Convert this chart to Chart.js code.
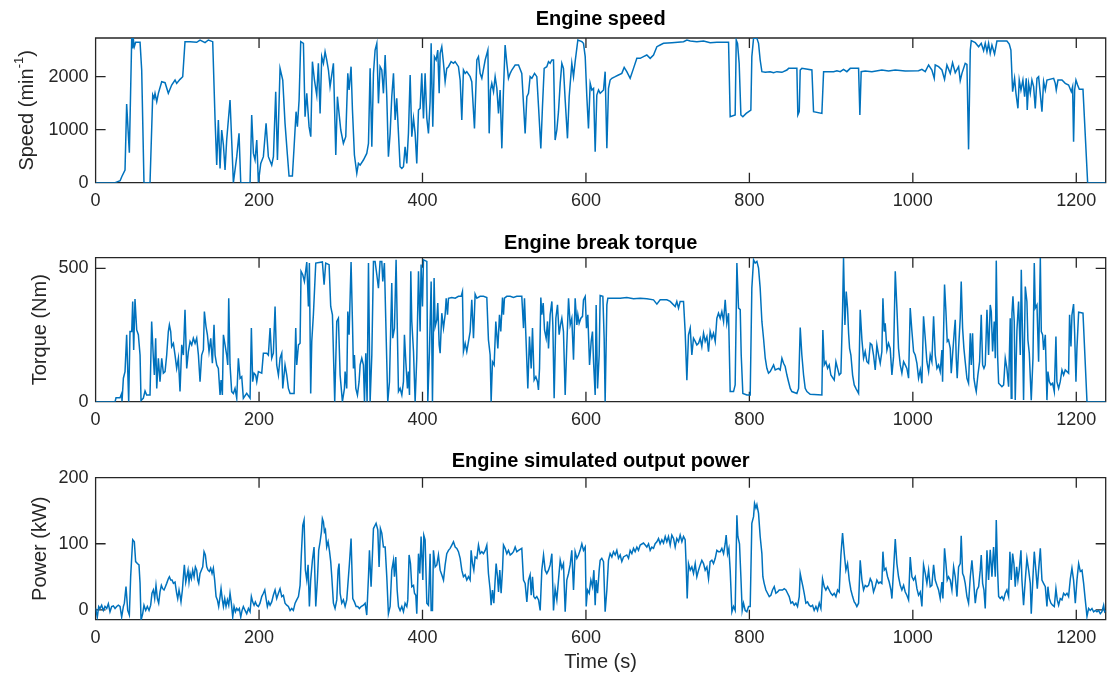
<!DOCTYPE html>
<html>
<head>
<meta charset="utf-8">
<title>Engine speed / torque / power</title>
<script src="https://cdn.jsdelivr.net/npm/chart.js@4.4.1/dist/chart.umd.min.js"></script>
<style>
  body { margin: 0; background: #fff; }
  #wrap { position: relative; width: 1109px; height: 684px; }
  #wrap canvas { position: absolute; left: 0; }
</style>
</head>
<body>
<div id="wrap">
  <canvas id="speedChart" width="1109" height="220" style="top:0px"></canvas>
  <canvas id="torqueChart" width="1109" height="220" style="top:220px"></canvas>
  <canvas id="powerChart" width="1109" height="244" style="top:440px"></canvas>
</div>
<script>
// readings: [time s, value]
const xTicks = [0, 200, 400, 600, 800, 1000, 1200];

const speedRpm = [
  [0,0],[24,0],[30,38],[32,113],[36,239],[38,1484],[41.3,566],[44.2,2730],[45.4,2535],[46.2,2705],[47.4,2566],[49,2648],[54.4,2648],[56.4,2126],[59.2,0],[66.6,0],
  [69.9,1654],[71.5,1591],[72.7,1686],[74.8,1528],[76.8,1686],[80.9,1906],[85,1887],[89,1686],[93.1,1843],[97.2,1937],[99.2,1874],[103.3,1950],[106.6,2000],[109.4,2661],
  [115.5,2661],[123.7,2648],[127.8,2692],[133.9,2642],[138,2692],[143.3,2661],[146.2,1183],[148.2,333],[150.2,1183],[152.3,270],[154.3,994],[156.4,711],[158.4,239],
  [160.4,805],[164.5,1560],[166.5,805],[168.6,0],[172.7,491],[175.5,931],[177.6,0],[189,0],[191,1277],[193.1,553],[195.1,428],[197.2,805],[199.2,0],[202.1,365],
  [205.3,491],[208.6,1120],[211.4,491],[215.5,333],[217.6,491],[220.4,1717],[222.5,428],[225.7,2157],[229,1937],[231.8,1120],[234.7,522],[236.7,126],[240.8,126],
  [242.9,679],[245.3,1340],[246.9,1057],[249,1560],[251,2661],[254.3,2629],[256.3,1245],[258.4,1686],[261.2,1057],[263.3,868],[265.3,2283],[267.8,1937],[270.6,1654],
  [272.6,2252],[274.7,1308],[276.7,2378],[278.8,2252],[280.8,2472],[282.8,2315],[284.9,2126],[286.9,1812],[291,2252],[293.9,522],[295.9,1623],[297.9,1308],[300,994],
  [303.2,742],[306.1,868],[308.6,2063],[310.2,1749],[312.6,2189],[314.3,1371],[316.7,522],[319.6,176],[321.6,365],[323.7,333],[327.7,428],[331.8,553],[333.9,742],
  [335.9,2157],[338,679],[340,2063],[342,2503],[344.1,2629],[346.1,1497],[348.1,2189],[350.2,2126],[352.2,1686],[354.3,2409],[356.3,1623],[358.3,491],[360.4,931],
  [362.4,1623],[364.5,2063],[366.5,1183],[368.5,1591],[370.6,931],[372.6,302],[374.7,270],[376.7,302],[378.7,679],[380.8,365],[382.8,931],[384.9,2032],[386.9,868],
  [389,1214],[391,931],[393,365],[395.1,1371],[397.1,1403],[399.1,2063],[401.2,1214],[403.2,2063],[405.3,1214],[407.3,931],[409.3,1528],[410.6,2629],[412.6,1057],
  [414.6,2378],[416.7,2315],[418.7,2503],[420.4,1686],[421.6,2441],[423.6,2566],[425.7,2252],[427.7,1906],[429.7,2157],[431.8,2189],[435,2283],[437.9,2252],[439.9,2283],
  [444,2189],[446.1,1937],[448.1,1183],[450.1,2126],[452.2,2063],[454.2,2095],[458.3,2000],[460.3,1906],[463.6,1025],[466.5,2315],[468.5,2378],[470.5,2063],[472.6,1969],
  [476.7,2315],[480,2503],[481.6,931],[483.2,1749],[484.8,1874],[486.9,1717],[488.9,2000],[491,1780],[493,1308],[495,1749],[497.1,648],[499.1,1749],[501.1,2598],
  [503.2,2252],[505.2,1969],[507.3,2063],[509.3,2126],[513.4,2220],[517.5,2220],[521.5,2063],[525.6,931],[527.7,1623],[529.7,1686],[531.7,2000],[533.8,1969],[537.1,2063],
  [539.9,2000],[542,1434],[544.8,648],[546.8,1434],[548.9,2157],[552.1,2189],[554.2,2283],[556.2,2252],[558.3,2315],[560.3,2315],[562.3,805],[564.4,994],[566.4,1340],
  [568.5,1874],[570.5,2252],[572.5,2157],[574.6,1560],[577.4,837],[579.5,1623],[582.7,2252],[584.8,2000],[586.8,2283],[590.1,2692],[595,2661],[597,2629],[599.1,2378],
  [601.1,1623],[603.1,1025],[605.2,1874],[607.2,1749],[609.3,1780],[611.3,585],[613.3,1654],[615.4,1749],[617.4,1686],[619.4,1717],[621.5,1749],[623.5,2095],[625.6,648],
  [627.6,1780],[629.6,1937],[631.7,1969],[635.8,2000],[639.8,2032],[643.9,2063],[646.8,2176],[650,2095],[654.1,1969],[658.2,2157],[662.3,2346],[666.4,2346],[670.4,2378],
  [674.5,2409],[678.6,2346],[682.7,2409],[686.8,2566],[690.8,2598],[694.9,2629],[705.1,2642],[719.4,2661],[723.5,2692],[727.6,2673],[735.7,2661],[743.9,2673],[752,2642],
  [760.2,2648],[774.5,2648],[776.5,1245],[782.6,1277],[783.9,2692],[785.5,2629],[787.5,2252],[789.6,1277],[792,1245],[796.1,1308],[801.8,1371],[803,2378],[805.1,2723],
  [809.2,2723],[811.2,2629],[813.2,2315],[815.3,2095],[819.4,2082],[825.5,2095],[829.6,2076],[833.6,2095],[839.8,2082],[845.9,2126],[848,2157],[858.1,2157],[859.3,1277],
  [861,1340],[862.2,2126],[864.2,2157],[876.5,2126],[878.5,1340],[888.7,1308],[890.8,2095],[903,2095],[907.1,2113],[911.2,2095],[915.2,2139],[919.3,2095],[923.4,2157],
  [933.6,2157],[935.2,1277],[936.8,2095],[941.7,2107],[949.9,2095],[962.1,2126],[970.3,2107],[978.5,2126],[990.7,2107],[1007,2113],[1011.1,2139],[1015.2,2095],
  [1019.3,2220],[1023.3,2126],[1026.2,1969],[1027.4,2220],[1031.5,2189],[1035.6,2126],[1038.8,1950],[1041.7,2220],[1045.8,2063],[1048.6,2264],[1051.9,2076],[1056,2189],
  [1058,1925],[1060.1,2063],[1064.1,2252],[1066.2,2233],[1068.2,629],[1070.3,2503],[1071.5,2680],[1076.4,2642],[1080.5,2566],[1083.7,2629],[1086.6,2491],[1088.6,2629],
  [1090.7,2472],[1092.7,2629],[1094.7,2441],[1096.8,2598],[1100,2428],[1102.9,2673],[1115.1,2673],[1118,2617],[1120,2503],[1122.1,1717],[1124.5,1969],[1126.2,1686],
  [1128.6,1403],[1130.2,1937],[1132.3,1749],[1134.7,1937],[1136.8,1623],[1138.8,1969],[1140,1371],[1141.7,1874],[1143.7,1686],[1145.7,1937],[1147.8,1812],[1149.8,1403],
  [1151.9,1969],[1153.9,2000],[1155.9,1686],[1158,1340],[1160,1906],[1162.1,1749],[1164.1,1937],[1172.3,1969],[1174.3,1874],[1175.5,1749],[1177.6,1937],[1182.5,1937],
  [1186.5,1874],[1190.6,1843],[1193.9,1717],[1195.5,1812],[1196.7,774],[1198,1749],[1199.6,1937],[1201.6,1843],[1203.7,1761],[1208.2,1761],[1213.9,0],[1236,0]
];

const torqueNm = [
  [0,0],[23.8,0],[25,15],[29.9,15],[31.9,31],[32.3,0],[34,88],[36,113],[38,251],[40.5,0],[42.1,263],[44.2,263],[45.4,376],[46.6,194],[48.2,385],[50.3,269],[52.3,251],
  [54.4,175],[55.6,4],[58.4,13],[60.5,40],[62.5,25],[66.6,25],[68.6,301],[70.7,163],[71.9,100],[73.5,238],[74.8,50],[76.8,163],[78.8,75],[80.9,163],[82.9,107],[85,113],
  [87,175],[89,263],[90.3,288],[91.9,263],[93.1,207],[95.2,219],[97.2,175],[99.2,125],[101.3,163],[103.3,38],[105.4,213],[107.4,175],[109.4,345],[111.5,125],[113.5,188],
  [115.6,226],[117.6,213],[119.6,238],[121.7,219],[123.7,238],[125.8,175],[127.8,75],[129.8,175],[131.9,194],[133.1,338],[135.1,282],[136.8,251],[138.8,188],[140.9,238],
  [142.9,144],[144.9,288],[146.2,175],[148.2,138],[150.2,125],[152.3,25],[153.5,81],[155.1,25],[156.4,251],[158.4,213],[160.4,175],[161.7,138],[162.9,388],[164.5,138],
  [166.5,38],[168.6,31],[170.6,50],[172.7,13],[174.7,163],[176.8,88],[178.8,94],[180.8,13],[184.9,31],[189,13],[190.6,276],[192.2,75],[193.9,107],[195.9,100],[197.2,75],
  [199.2,113],[203.3,107],[205.3,182],[209.4,182],[211.4,175],[213.5,276],[215.5,163],[217.5,182],[219.6,357],[221.6,138],[223.7,100],[225.7,163],[227.8,182],[229,50],
  [231.8,138],[233.9,100],[235.9,50],[238,31],[242.9,31],[244.9,276],[246.1,138],[248.2,213],[250.2,219],[251.4,489],[253.5,476],[255.5,451],[258.4,524],[260.4,357],
  [261.6,520],[263.2,31],[264.5,226],[266.5,326],[269.4,520],[277.5,524],[279.6,439],[281.6,520],[285.7,514],[287.7,357],[289.8,326],[292.6,0],[295.1,301],[297.1,313],
  [299.2,100],[302,0],[304.5,50],[305.3,113],[307.3,50],[308.6,338],[310.2,251],[312.6,524],[314.3,301],[315.5,125],[316.7,175],[318.4,50],[320.4,25],[322.4,75],
  [323.7,138],[325.7,163],[327.7,138],[329,0],[330.6,182],[332.2,0],[333.9,520],[335.9,0],[338,175],[340,526],[342,526],[344.1,476],[346.1,426],[348.1,526],[350.2,526],
  [351.4,451],[353.4,520],[355.1,301],[357.5,0],[359.6,75],[362.4,445],[363.6,238],[365.7,276],[367.7,532],[369.4,238],[370.6,38],[372.6,50],[374.7,25],[376.7,75],
  [377.9,251],[379.6,150],[381.6,50],[382.8,113],[384.1,25],[385.7,489],[386.9,301],[389,188],[391,0],[393,163],[395.1,489],[397.1,263],[398.3,514],[400,357],[401.2,532],
  [405.3,526],[406.5,0],[408.5,188],[410.6,451],[412.2,0],[414.2,464],[415.5,282],[417.5,307],[418.7,370],[420.4,213],[421.6,182],[423.6,332],[425.7,276],[427.7,326],
  [429,388],[430.6,326],[431.8,388],[435.9,391],[440,388],[444,395],[447.3,395],[448.9,413],[450.1,188],[452.2,219],[454.2,188],[456.3,226],[458.3,263],[460.3,382],
  [462.4,238],[464.4,403],[466.5,388],[470.5,395],[474.6,395],[478.7,391],[480.7,232],[482.8,175],[484,0],[485.6,150],[487.7,138],[489.7,301],[492.2,200],[494.2,326],
  [495.8,263],[497.9,391],[499.1,326],[500.3,388],[503.2,395],[507.3,395],[511.3,391],[515.4,395],[521.5,395],[523.6,276],[524.8,388],[526.4,257],[528.9,50],[530.9,244],
  [533,125],[534.6,276],[536.6,81],[538.7,94],[540.7,75],[541.9,44],[543.2,125],[544.8,391],[546,326],[547.7,370],[549.3,269],[551.3,238],[553,301],[554.2,200],[556.2,326],
  [558.3,376],[559.5,288],[561.1,13],[563.2,313],[565.2,363],[567.2,251],[568.9,288],[570.5,313],[572.5,263],[574.6,25],[576.6,213],[578.7,388],[580.7,288],[582.7,313],
  [584.8,157],[586.8,388],[588.9,288],[590.1,326],[591.7,294],[593.8,313],[595.8,320],[597,382],[599.1,395],[600.7,276],[602.3,326],[604.4,138],[606.4,226],[608,263],
  [609.3,150],[611.3,25],[612.5,363],[614.2,50],[616.2,175],[617.4,398],[620.7,395],[622.3,238],[623.5,0],[625.6,363],[626.8,388],[633.7,388],[641.9,388],[650,391],
  [658.2,386],[666.4,388],[674.5,386],[682.7,382],[686.8,366],[690.8,382],[699,382],[703.1,376],[709.2,357],[711.2,376],[713.3,351],[715.3,376],[719.4,376],[721.4,263],
  [723.5,81],[725.5,251],[727.6,276],[729.6,175],[731.6,238],[733.7,226],[735.7,213],[737.8,219],[739.8,238],[741.8,207],[743.9,257],[745.9,226],[748,244],[750,188],
  [752,263],[754.1,238],[756.1,257],[758.2,226],[760.2,313],[762.2,332],[764.3,313],[766.3,338],[768.4,301],[770.4,382],[772.4,294],[774.5,332],[776.5,38],[780.6,38],
  [782.6,63],[784.7,520],[786.7,351],[788.8,345],[790,175],[792,31],[797,25],[801,25],[803,426],[805.1,532],[807.1,520],[809.2,526],[811.2,501],[813.2,426],[815.3,301],
  [817.3,238],[819.4,163],[821.4,125],[823.4,107],[825.5,113],[827.5,125],[829.6,138],[831.6,119],[835.7,125],[837.7,119],[839.8,163],[841.8,144],[843.8,132],[845.9,100],
  [847.9,75],[850,50],[852,38],[858.1,31],[860.2,50],[862.2,278],[864.2,175],[866.3,100],[868.3,50],[870.4,38],[874.4,28],[888.7,25],[889.9,269],[891.6,138],[893.6,150],
  [895.7,125],[897.7,138],[899.7,100],[903.8,81],[905.9,150],[907.9,125],[909.9,100],[912,107],[914,338],[915.2,539],[916.9,288],[918.5,413],[920.1,351],[921.4,257],
  [922.6,200],[924.2,175],[926.3,100],[928.3,63],[930.3,50],[933.6,31],[935.6,345],[937.7,232],[939.7,163],[941.7,188],[943.8,150],[945.8,144],[947.9,219],[949.9,213],
  [951.9,175],[954,119],[956,213],[958.1,175],[960.1,144],[962.1,188],[963.4,388],[965,263],[966.2,294],[968.3,194],[970.3,219],[972.3,200],[974.4,100],[976.4,169],
  [978.5,489],[980.5,351],[982.5,200],[984.6,138],[986.6,107],[988.7,150],[990.7,138],[992.7,125],[994.8,88],[996.8,351],[998.9,263],[1000.9,188],[1002.9,175],[1005,144],
  [1007,88],[1009.1,119],[1011.1,69],[1013.1,320],[1015.2,238],[1017.2,150],[1019.3,113],[1021.3,175],[1023.3,150],[1025.4,320],[1027.4,175],[1029.5,125],[1031.5,138],
  [1033.5,113],[1035.6,194],[1036.4,75],[1038.8,439],[1040.5,338],[1042.1,226],[1043.7,232],[1045.8,200],[1047,107],[1048.6,175],[1050.7,263],[1051.9,307],[1053.1,163],
  [1054.3,88],[1056,200],[1058,313],[1059.2,451],[1060.9,276],[1062.5,200],[1064.1,150],[1066.2,88],[1068.2,69],[1070.3,257],[1071.5,138],[1073.1,257],[1074.7,88],
  [1076.4,56],[1077.6,38],[1079.6,100],[1081.7,150],[1083.7,326],[1085.4,138],[1087,125],[1088.6,138],[1090.7,345],[1092.7,175],[1094.7,363],[1096,338],[1097.6,188],
  [1099.6,301],[1100.9,163],[1102.1,529],[1103.7,175],[1105,69],[1109,56],[1111.1,63],[1113.1,163],[1115.1,125],[1117.2,56],[1119.2,313],[1120.4,13],[1121.3,332],
  [1122.5,395],[1124.1,301],[1125.3,6],[1127.4,269],[1129.4,376],[1131.5,175],[1132.7,495],[1134.3,238],[1135.5,6],[1137.6,432],[1139.6,376],[1140.8,232],[1142.5,182],
  [1144.9,6],[1147,163],[1148.6,520],[1149.8,351],[1151.9,363],[1153.9,150],[1156,539],[1157.2,263],[1158.8,251],[1160,194],[1162.1,251],[1164.1,6],[1165.3,113],[1167,75],
  [1169,63],[1171,69],[1173.1,38],[1175.1,244],[1176.3,75],[1178.4,50],[1180.4,75],[1182.5,119],[1184.5,100],[1186.5,119],[1190.6,107],[1191.8,326],[1193.5,207],
  [1194.7,326],[1196.7,366],[1198,257],[1199.6,75],[1200.8,200],[1202.9,336],[1208.2,332],[1213.1,0],[1236,0]
];

const powerKw = [
  [0,2],[2.1,-11],[3.8,5],[5.4,2],[7.4,7],[9.5,-1],[11.5,5],[13.6,2],[15.6,9],[17.6,-3],[19.7,5],[21.7,6],[23.8,2],[25.8,5],[27.8,7],[29.9,5],[31.9,-11],[34,5],[35.2,10],
  [37.2,35],[39.3,-1],[41.3,-8],[42.9,50],[44.2,80],[45.4,106],[47.4,103],[49,73],[51.1,70],[53.1,68],[54.4,40],[55.6,-16],[57.6,-6],[59.2,7],[61.3,-1],[63.3,5],[65.4,-1],
  [67.4,7],[69,25],[70.7,30],[72.3,17],[73.9,37],[75.6,17],[77.2,10],[78.8,27],[80.5,37],[82.1,32],[83.7,30],[85.4,35],[87,40],[89,47],[90.3,50],[91.9,45],[93.5,45],
  [95.2,40],[97.2,42],[99.2,25],[100.5,17],[102.1,30],[103.3,22],[104.5,12],[106.2,30],[107.4,50],[108.6,68],[110.3,42],[111.5,50],[113.1,60],[114.3,42],[115.6,55],
  [117.2,47],[118.8,60],[120.5,50],[122.1,65],[123.7,60],[125,45],[126.2,40],[127.8,55],[129.4,60],[131.1,65],[132.7,88],[134.3,83],[136,65],[137.6,60],[139.2,58],
  [140.8,63],[142.5,55],[144.1,63],[145.7,45],[147.4,20],[149,15],[150.6,5],[152.3,20],[153.5,32],[155.1,15],[156.4,5],[158,17],[159.6,5],[161.3,15],[162.9,7],[164.5,25],
  [166.1,10],[167.8,-11],[169.4,5],[171.1,-3],[172.7,2],[174.3,-1],[175.9,2],[177.6,-11],[179.2,-1],[180.8,5],[182.9,-1],[184.9,-6],[187,2],[189,-3],[190.6,20],[192.2,12],
  [193.9,7],[195.5,12],[197.2,7],[199.2,5],[201.2,10],[203.3,20],[205.3,25],[207,30],[208.6,17],[210.2,5],[211.8,12],[213.5,7],[215.5,12],[217.5,22],[219.6,30],[221.6,17],
  [223.7,25],[225.7,32],[227.8,20],[229.8,22],[231.8,10],[233.9,7],[235.9,5],[238,-1],[240,2],[242,-1],[244.1,10],[246.1,15],[248.2,20],[250.2,37],[251.8,85],[253.5,128],
  [255.1,136],[256.7,60],[258.4,45],[260,68],[261.6,5],[263.2,45],[265.3,75],[267.3,95],[269.4,5],[271.4,45],[273,90],[274.7,103],[276.3,118],[277.5,138],[278.8,133],
  [280,118],[281.2,121],[282.8,95],[284.5,103],[286.1,90],[287.7,73],[289,50],[291,10],[293,2],[295.1,15],[296.7,60],[297.9,70],[299.2,25],[301.2,10],[303.2,15],[305.3,5],
  [307.3,15],[309.4,50],[310.6,70],[312.6,108],[314.7,17],[316.7,12],[318.8,5],[320.8,5],[322.8,2],[324.9,5],[327.7,7],[329.8,10],[331.8,-8],[333.9,50],[335.1,90],
  [337.1,35],[338.8,85],[340,123],[342,128],[343.2,131],[345.3,121],[346.9,65],[348.5,123],[350.2,116],[352.2,95],[354.3,95],[356.3,50],[358.3,-6],[360.4,5],[362.4,60],
  [364.5,75],[365.7,50],[367.3,80],[369,30],[370.6,5],[372.6,-1],[374.7,5],[376.7,-3],[378.7,10],[380.8,5],[382,15],[383.6,83],[385.3,70],[386.9,35],[389,37],[390.2,25],
  [391.8,22],[393,-6],[395.1,85],[396.7,55],[398.3,111],[400.4,45],[401.6,113],[403.2,106],[405.3,10],[407.3,7],[409.3,85],[410.6,-1],[412.2,-1],[413.4,90],[415.5,65],
  [417.5,68],[419.5,83],[421.6,60],[423.6,53],[425.7,45],[427.7,68],[429.7,85],[431.8,90],[433.8,93],[435.9,98],[437.9,103],[440,95],[442,93],[444,88],[446.1,78],
  [448.1,60],[450.1,50],[452.2,53],[454.2,45],[456.3,50],[458.3,45],[459.5,90],[461.2,70],[462.8,60],[464.4,80],[466.5,78],[468.5,98],[470.5,85],[472.6,88],[474.6,85],
  [476.7,90],[478.7,98],[480.7,55],[482.8,30],[484,7],[485.6,30],[487.3,10],[488.9,45],[490.1,70],[491.8,50],[493,27],[494.6,60],[496.2,25],[497.9,60],[499.1,98],
  [501.1,93],[503.2,85],[505.2,90],[507.3,83],[509.3,85],[511.3,88],[513.4,95],[515.4,88],[517.5,90],[521.5,93],[523.6,45],[525.6,40],[527.7,12],[529.7,45],[531.7,53],
  [533,22],[534.6,50],[536.2,20],[537.9,17],[539.9,20],[542,15],[544,-1],[546,60],[548.1,83],[550.1,60],[552.1,55],[554.2,60],[556.2,68],[558.3,85],[560.3,-1],[562.3,32],
  [564.4,15],[566.4,45],[568.5,75],[570.5,63],[572.5,70],[574.6,-3],[576.6,45],[578.7,55],[580.7,68],[582.7,90],[584.8,30],[586.8,88],[588.9,78],[590.9,83],[592.9,90],
  [595,100],[597,90],[599.1,95],[600.3,5],[601.9,30],[604,25],[606,45],[608,35],[609.7,60],[611.3,7],[612.5,45],[614.2,25],[616.2,60],[617.4,75],[619.4,78],[621.5,73],
  [623.5,-3],[625.6,30],[627.6,75],[629.6,85],[631.7,80],[633.7,88],[635.8,83],[637.8,90],[639.8,78],[641.9,83],[643.9,73],[646,80],[650,83],[652.1,78],[654.1,90],
  [656.2,85],[658.2,93],[660.2,88],[662.3,95],[664.3,90],[666.4,98],[670.4,101],[672.5,98],[674.5,95],[676.6,100],[678.6,90],[680.6,95],[682.7,93],[684.7,100],[686.8,103],
  [688.8,108],[690.8,100],[692.9,106],[694.9,101],[697,111],[699,103],[701,111],[703.1,98],[705.1,113],[707.2,108],[709.2,95],[711.2,108],[713.3,103],[715.3,113],
  [717.4,103],[719.4,111],[721.4,106],[722.7,65],[723.9,17],[725.5,70],[727.6,60],[729.6,65],[731.6,55],[733.7,70],[735.7,50],[737.8,60],[739.8,68],[741.8,75],[743.9,70],
  [745.9,60],[748,65],[750,47],[752,73],[754.1,75],[756.1,70],[758.2,78],[760.2,90],[762.2,88],[764.3,88],[766.3,93],[768.4,85],[770.4,100],[771.6,113],[773.3,85],
  [774.9,93],[776.5,60],[778.6,-3],[780.6,5],[782.6,-1],[784.7,143],[785.9,111],[787.9,100],[789.6,50],[791.2,-1],[792.8,10],[794.9,-1],[796.9,-3],[799,5],[801,5],
  [803,131],[805.1,141],[806.3,161],[808,154],[809.2,159],[811.2,146],[813.2,111],[815.3,85],[816.5,50],[818.1,40],[820.2,30],[822.2,25],[824.3,20],[826.3,22],[828.3,30],
  [830.4,35],[832.4,25],[834.5,27],[836.5,30],[840.6,30],[842.6,32],[844.7,30],[846.7,25],[848.7,20],[850.8,10],[852.8,12],[854.9,7],[856.9,10],[858.9,5],[861,20],
  [862.2,55],[863.8,45],[865.5,35],[867.1,25],[869.1,10],[871.2,12],[873.2,7],[875.3,5],[877.3,7],[879.3,-1],[881.4,5],[883.4,-1],[885.5,10],[887.5,2],[889.5,47],
  [891.6,35],[893.6,30],[895.7,35],[897.7,30],[899.7,25],[901.8,22],[903.8,25],[905.9,20],[907.9,30],[909.9,27],[912,83],[914,116],[916.1,85],[918.1,60],[920.1,70],
  [922.2,45],[924.2,30],[926.3,20],[928.3,12],[929.5,10],[931.5,5],[933.6,10],[935.6,75],[937.7,45],[939.7,30],[941.7,37],[943.8,35],[945.8,37],[947.9,47],[949.9,42],
  [951.9,27],[954,35],[956,45],[958.1,40],[960.1,42],[962.1,40],[963.4,88],[965,60],[967,63],[969.1,50],[971.1,42],[973.2,30],[974.4,17],[976.4,60],[978.5,107],[980.5,70],
  [982.5,50],[984.6,37],[986.6,30],[988.7,37],[990.7,27],[992.7,22],[994.8,15],[996.8,80],[998.9,50],[1000.9,45],[1002.9,50],[1005,32],[1007,22],[1009.1,27],[1011.1,5],
  [1013.1,68],[1015.2,55],[1017.2,40],[1019.3,60],[1021.3,35],[1023.3,37],[1025.4,68],[1027.4,45],[1029.5,37],[1031.5,30],[1033.5,17],[1035.6,42],[1036.8,17],[1038.8,93],
  [1040.5,70],[1042.1,45],[1043.7,50],[1045.8,45],[1047.8,30],[1049.9,65],[1051.9,50],[1054,20],[1056,65],[1058,70],[1059.2,112],[1060.9,55],[1062.5,50],[1064.1,40],
  [1066.2,20],[1068.2,10],[1070.3,50],[1072.3,75],[1074.3,45],[1076.4,10],[1078.4,30],[1080.5,35],[1082.5,60],[1083.7,83],[1085.4,40],[1087,30],[1088.6,2],[1090.7,90],
  [1092.7,45],[1094.7,91],[1096.8,50],[1098.8,95],[1100.9,50],[1102.1,136],[1103.7,60],[1105,20],[1107,17],[1109,20],[1111.1,15],[1113.1,25],[1115.1,30],[1117.2,20],
  [1118.8,88],[1120.4,45],[1122.1,85],[1123.7,70],[1125.3,35],[1127,65],[1128.6,45],[1130.2,60],[1132.3,90],[1133.5,45],[1135.5,7],[1137.6,45],[1139.6,78],[1141.7,60],
  [1143.7,40],[1144.9,-6],[1147,50],[1148.6,88],[1150.2,65],[1152.3,32],[1153.9,60],[1156,93],[1158,45],[1160,40],[1162.1,35],[1164.1,5],[1165.3,35],[1167,17],[1169,10],
  [1171,7],[1173.1,5],[1175.1,32],[1176.7,15],[1178.4,7],[1180.4,17],[1182.5,15],[1184.5,25],[1186.5,22],[1188.6,25],[1190.6,20],[1192.7,47],[1194.7,63],[1196.7,45],
  [1198.8,10],[1200.8,45],[1202.9,70],[1204.9,58],[1207,60],[1209,40],[1211,15],[1213.1,-10],[1215.1,2],[1217.1,-1],[1219.2,2],[1221.2,-3],[1223.3,-1],[1225.3,-3],
  [1227.3,-1],[1229.4,-6],[1231.4,-3],[1233.5,7],[1234.7,-3],[1236,-1]
];

const FONT = "'Liberation Sans', Arial, Helvetica, sans-serif";
const AXIS_COLOR = '#262626';
const LINE_COLOR = '#0072BD';

// MATLAB style axes: box with inward ticks, bold title, y label
const matlabAxes = {
  id: 'matlabAxes',
  beforeDatasetsDraw(chart, args, o) {
    const { ctx, chartArea: a, scales } = chart;
    const x = scales.x, y = scales.y;
    ctx.save();
    ctx.strokeStyle = AXIS_COLOR;
    ctx.lineWidth = 1.3;
    ctx.beginPath();
    ctx.rect(a.left, a.top, a.right - a.left, a.bottom - a.top);
    x.ticks.forEach(t => {
      const px = x.getPixelForValue(t.value);
      ctx.moveTo(px, a.bottom); ctx.lineTo(px, a.bottom - 10);
      ctx.moveTo(px, a.top); ctx.lineTo(px, a.top + 10);
    });
    y.ticks.forEach(t => {
      const py = y.getPixelForValue(t.value);
      ctx.moveTo(a.left, py); ctx.lineTo(a.left + 10, py);
      ctx.moveTo(a.right, py); ctx.lineTo(a.right - 10, py);
    });
    ctx.stroke();

    ctx.fillStyle = '#000';
    ctx.textAlign = 'center';
    ctx.textBaseline = 'middle';
    ctx.font = 'bold 20px ' + FONT;
    ctx.fillText(o.title, (a.left + a.right) / 2, o.titleY);

    // y label, rotated; parts allow a superscript
    ctx.fillStyle = AXIS_COLOR;
    ctx.translate(o.yLabelX, (a.top + a.bottom) / 2);
    ctx.rotate(-Math.PI / 2);
    ctx.textAlign = 'left';
    let w = 0;
    o.yLabel.forEach(p => { ctx.font = p.size + 'px ' + FONT; w += ctx.measureText(p.text).width; });
    let cx = -w / 2;
    o.yLabel.forEach(p => {
      ctx.font = p.size + 'px ' + FONT;
      ctx.fillText(p.text, cx, -(p.rise || 0));
      cx += ctx.measureText(p.text).width;
    });
    ctx.restore();

    if (o.xLabel) {
      ctx.save();
      ctx.fillStyle = AXIS_COLOR;
      ctx.font = '20px ' + FONT;
      ctx.textAlign = 'center';
      ctx.textBaseline = 'middle';
      ctx.fillText(o.xLabel, (a.left + a.right) / 2, o.xLabelY);
      ctx.restore();
    }
  }
};

const plainNumber = v => String(v);

function makeChart(id, samples, cfg) {
  const ctx = document.getElementById(id).getContext('2d');
  return new Chart(ctx, {
    type: 'line',
    data: {
      datasets: [{
        data: samples.map(p => ({ x: p[0], y: p[1] })),
        borderColor: LINE_COLOR,
        borderWidth: 1.5,
        pointRadius: 0,
        tension: 0
      }]
    },
    options: {
      responsive: false,
      animation: false,
      events: [],
      layout: { padding: { top: cfg.padTop, right: 3.3, left: 0, bottom: 0 } },
      plugins: {
        legend: { display: false },
        tooltip: { enabled: false },
        matlabAxes: cfg.axes
      },
      scales: {
        x: {
          type: 'linear',
          min: 0,
          max: 1236,
          grid: { display: false, drawTicks: false },
          border: { display: false },
          afterBuildTicks: s => { s.ticks = xTicks.map(v => ({ value: v })); },
          ticks: { padding: 8, color: AXIS_COLOR, font: { family: FONT, size: 18 }, maxRotation: 0, autoSkip: false, callback: plainNumber },
          afterFit: s => { s.height = cfg.xHeight; }
        },
        y: {
          type: 'linear',
          min: cfg.yMin,
          max: cfg.yMax,
          grid: { display: false, drawTicks: false },
          border: { display: false },
          afterBuildTicks: s => { s.ticks = cfg.yTicks.map(v => ({ value: v })); },
          ticks: { padding: 7, color: AXIS_COLOR, font: { family: FONT, size: 18 }, autoSkip: false, callback: plainNumber },
          afterFit: s => { s.width = 95.6; }
        }
      }
    },
    plugins: [matlabAxes]
  });
}

makeChart('speedChart', speedRpm, {
  padTop: 38, xHeight: 37.3, yMin: 0, yMax: 2730, yTicks: [0, 1000, 2000],
  axes: { title: 'Engine speed', titleY: 19, yLabelX: 27,
          yLabel: [{ text: 'Speed (min', size: 20 }, { text: '-1', size: 13, rise: 8 }, { text: ')', size: 20 }] }
});

makeChart('torqueChart', torqueNm, {
  padTop: 37.7, xHeight: 38.3, yMin: 0, yMax: 540, yTicks: [0, 500],
  axes: { title: 'Engine break torque', titleY: 23, yLabelX: 40,
          yLabel: [{ text: 'Torque (Nm)', size: 20 }] }
});

makeChart('powerChart', powerKw, {
  padTop: 37.7, xHeight: 64.3, yMin: -15, yMax: 200, yTicks: [0, 100, 200],
  axes: { title: 'Engine simulated output power', titleY: 21, yLabelX: 40,
          yLabel: [{ text: 'Power (kW)', size: 20 }],
          xLabel: 'Time (s)', xLabelY: 222 }
});
</script>
</body>
</html>
